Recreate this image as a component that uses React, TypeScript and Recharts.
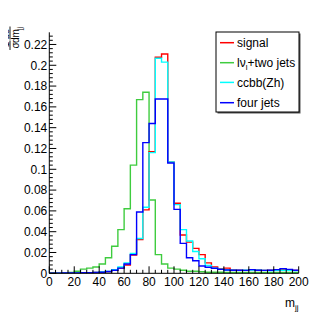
import React from "react";
import { LineChart, Line, XAxis, YAxis } from "recharts";

// histogram bin lower edges (bin width 5)
const BIN_LOW = [0, 5, 10, 15, 20, 25, 30, 35, 40, 45, 50, 55, 60, 65, 70, 75, 80, 85, 90, 95,
  100, 105, 110, 115, 120, 125, 130, 135, 140, 145, 150, 155, 160, 165, 170, 175, 180, 185, 190, 195];
const X_END = 200;

const SIGNAL = [0.0001, 0.0001, 0.0002, 0.0002, 0.0003, 0.0004, 0.0005, 0.0007, 0.001, 0.0015,
  0.003, 0.005, 0.008, 0.0176, 0.0325, 0.061, 0.117, 0.2077, 0.2108, 0.107,
  0.0673, 0.0368, 0.030, 0.024, 0.018, 0.010, 0.0062, 0.0045, 0.005, 0.0032,
  0.003, 0.0028, 0.0035, 0.003, 0.0028, 0.003, 0.0032, 0.0035, 0.003, 0.0028];
const LV_TWO_JETS = [0, 0, 0.0003, 0.0008, 0.002, 0.004, 0.005, 0.006, 0.009, 0.015,
  0.026, 0.042, 0.062, 0.104, 0.167, 0.174, 0.0705, 0.018, 0.009, 0.005,
  0.004, 0.003, 0.002, 0.002, 0.0015, 0.001, 0.001, 0.001, 0.0009, 0.0009,
  0.0008, 0.0008, 0.0008, 0.0008, 0.0008, 0.0008, 0.0008, 0.0008, 0.0008, 0.0008];
const CCBB_ZH = [0.0001, 0.0001, 0.0002, 0.0002, 0.0003, 0.0004, 0.0005, 0.0008, 0.0012, 0.0018,
  0.0035, 0.006, 0.010, 0.019, 0.0335, 0.0635, 0.116, 0.2067, 0.203, 0.107,
  0.066, 0.042, 0.031, 0.021, 0.014, 0.0075, 0.005, 0.004, 0.0032, 0.003,
  0.0028, 0.003, 0.0032, 0.003, 0.0028, 0.0027, 0.003, 0.003, 0.0028, 0.0026];
const FOUR_JETS = [0.0002, 0.0002, 0.0003, 0.0003, 0.0004, 0.0005, 0.0006, 0.0008, 0.001, 0.0018,
  0.003, 0.005, 0.009, 0.018, 0.059, 0.1256, 0.144, 0.1676, 0.1676, 0.106,
  0.0615, 0.0288, 0.015, 0.012, 0.007, 0.0058, 0.0048, 0.0038, 0.0032, 0.003,
  0.003, 0.0028, 0.0035, 0.003, 0.0028, 0.003, 0.0035, 0.0045, 0.0038, 0.003];

const X_MAJOR = [0, 20, 40, 60, 80, 100, 120, 140, 160, 180, 200];
const X_MINOR_STEP = 5;
const Y_MAJOR = [0, 0.02, 0.04, 0.06, 0.08, 0.1, 0.12, 0.14, 0.16, 0.18, 0.2, 0.22];
const Y_LABELS = ["0", "0.02", "0.04", "0.06", "0.08", "0.1", "0.12", "0.14", "0.16", "0.18", "0.2", "0.22"];
const Y_MINOR_STEP = 0.004;
const Y_MAX = 0.2317;

const SERIES = [
  { key: "lv", name: "lv", color: "#3fcc3f" },
  { key: "signal", name: "signal", color: "#ff0000" },
  { key: "ccbb", name: "ccbb(Zh)", color: "#00ffff" },
  { key: "four", name: "four jets", color: "#0000ff" },
];

const data = BIN_LOW.map((x, i) => ({
  x,
  signal: SIGNAL[i],
  lv: LV_TWO_JETS[i],
  ccbb: CCBB_ZH[i],
  four: FOUR_JETS[i],
}));
data.push({
  x: X_END,
  signal: SIGNAL[SIGNAL.length - 1],
  lv: LV_TWO_JETS[LV_TWO_JETS.length - 1],
  ccbb: CCBB_ZH[CCBB_ZH.length - 1],
  four: FOUR_JETS[FOUR_JETS.length - 1],
});

const xTicks: number[] = [];
for (let v = 0; v <= X_END; v += X_MINOR_STEP) xTicks.push(v);
const yTicks: number[] = [];
for (let k = 0; k * Y_MINOR_STEP <= Y_MAX; k++) yTicks.push(k * Y_MINOR_STEP);

const FONT = "'Liberation Sans', Arial, Helvetica, sans-serif";
const MAJ = 7;
const MIN = 3.5;

const isXMajor = (v: number) => X_MAJOR.some((m) => Math.abs(m - v) < 1e-6);
const yMajorIndex = (v: number) => Y_MAJOR.findIndex((m) => Math.abs(m - v) < 1e-7);

const BottomTick = (p: any) => {
  const { x, y, payload } = p;
  const major = isXMajor(payload.value);
  return (
    <g>
      <line x1={x} x2={x} y1={y} y2={y - (major ? MAJ : MIN)} stroke="#000" strokeWidth={1} />
      {major && (
        <text x={x} y={y + 12.4} textAnchor="middle" fontSize={12} fontFamily={FONT} fill="#000">
          {payload.value}
        </text>
      )}
    </g>
  );
};
const TopTick = (p: any) => {
  const { x, y, payload } = p;
  const major = isXMajor(payload.value);
  return <line x1={x} x2={x} y1={y} y2={y + (major ? MAJ : MIN)} stroke="#000" strokeWidth={1} />;
};
const LeftTick = (p: any) => {
  const { x, y, payload } = p;
  const idx = yMajorIndex(payload.value);
  const major = idx >= 0;
  return (
    <g>
      <line x1={x} x2={x + (major ? MAJ : MIN)} y1={y} y2={y} stroke="#000" strokeWidth={1} />
      {major && (
        <text x={x - 2} y={y + 4.3} textAnchor="end" fontSize={12} fontFamily={FONT} fill="#000">
          {Y_LABELS[idx]}
        </text>
      )}
    </g>
  );
};
const RightTick = (p: any) => {
  const { x, y, payload } = p;
  const major = yMajorIndex(payload.value) >= 0;
  return <line x1={x} x2={x - (major ? MAJ : MIN)} y1={y} y2={y} stroke="#000" strokeWidth={1} />;
};

const W = 324;
const H = 314;

export default function App() {
  const legendRows = [
    { color: "#ff0000", label: <tspan>signal</tspan> },
    {
      color: "#3fcc3f",
      label: (
        <>
          <tspan>lν</tspan>
          <tspan fontSize={8} dy={3}>l</tspan>
          <tspan dy={-3}>+two jets</tspan>
        </>
      ),
    },
    { color: "#00ffff", label: <tspan>ccbb(Zh)</tspan> },
    { color: "#0000ff", label: <tspan>four jets</tspan> },
  ];
  const rowY = [42.7, 62.7, 82.4, 102.7];
  return (
    <div style={{ position: "relative", width: W, height: H }}>
      <LineChart width={W} height={H} data={data} margin={{ top: 24.3, right: 33.3, left: 0, bottom: 0 }}>
        <XAxis
          dataKey="x"
          type="number"
          domain={[0, X_END]}
          allowDataOverflow
          ticks={xTicks}
          interval={0}
          tickSize={0}
          tickMargin={0}
          tickLine={false}
          height={48.7}
          axisLine={{ stroke: "#000", strokeWidth: 1 }}
          tick={(p: any) => <BottomTick {...p} />}
        />
        <XAxis
          xAxisId="top"
          orientation="top"
          type="number"
          domain={[0, X_END]}
          allowDataOverflow
          ticks={xTicks}
          interval={0}
          tickSize={0}
          tickMargin={0}
          tickLine={false}
          height={0}
          axisLine={{ stroke: "#000", strokeWidth: 1 }}
          tick={(p: any) => <TopTick {...p} />}
        />
        <YAxis
          type="number"
          domain={[0, Y_MAX]}
          allowDataOverflow
          ticks={yTicks}
          interval={0}
          tickSize={0}
          tickMargin={0}
          tickLine={false}
          width={41.3}
          axisLine={{ stroke: "#000", strokeWidth: 1 }}
          tick={(p: any) => <LeftTick {...p} />}
        />
        <YAxis
          yAxisId="right"
          orientation="right"
          type="number"
          domain={[0, Y_MAX]}
          allowDataOverflow
          ticks={yTicks}
          interval={0}
          tickSize={0}
          tickMargin={0}
          tickLine={false}
          width={0}
          axisLine={{ stroke: "#000", strokeWidth: 1 }}
          tick={(p: any) => <RightTick {...p} />}
        />
        {SERIES.map((s) => (
          <Line
            key={s.key}
            type="stepAfter"
            dataKey={s.key}
            stroke={s.color}
            strokeWidth={1.4}
            dot={false}
            activeDot={false}
            isAnimationActive={false}
          />
        ))}
      </LineChart>
      <svg
        width={332}
        height={322}
        style={{ position: "absolute", left: -8, top: -8, pointerEvents: "none" }}
      >
        <g fontFamily={FONT} fill="#000">
          {/* legend */}
          <rect x={217.5} y={33.5} width={83} height={80} fill="#555" />
          <rect x={216} y={32} width={83} height={80} fill="#fff" stroke="#000" strokeWidth={1} />
          {legendRows.map((r, i) => (
            <g key={i}>
              <line x1={220} x2={234} y1={rowY[i]} y2={rowY[i]} stroke={r.color} strokeWidth={1.5} />
              <text x={237} y={rowY[i] + 4.3} fontSize={12}>
                {r.label}
              </text>
            </g>
          ))}
          {/* x-axis title */}
          <text x={285} y={306.5} fontSize={12}>
            <tspan>m</tspan>
            <tspan fontSize={8} dy={3}>jj</tspan>
          </text>
          {/* y-axis title: (1/σ)(dσ/dm_jj), rotated */}
          <g transform="translate(0,0) rotate(-90)" fontSize={10}>
            <text x={-44.5} y={8.5} textAnchor="middle">1</text>
            <text x={-34} y={8.5} textAnchor="middle">dσ</text>
            <line x1={-50} x2={-40.5} y1={10} y2={10} stroke="#000" strokeWidth={0.9} />
            <line x1={-39.5} x2={-26.5} y1={10} y2={10} stroke="#000" strokeWidth={0.9} />
            <text x={-45.5} y={18.5} textAnchor="middle">σ</text>
            <text x={-36} y={18.5} textAnchor="middle">dm</text>
            <text x={-30} y={21.5} fontSize={7}>jj</text>
          </g>
        </g>
      </svg>
    </div>
  );
}
